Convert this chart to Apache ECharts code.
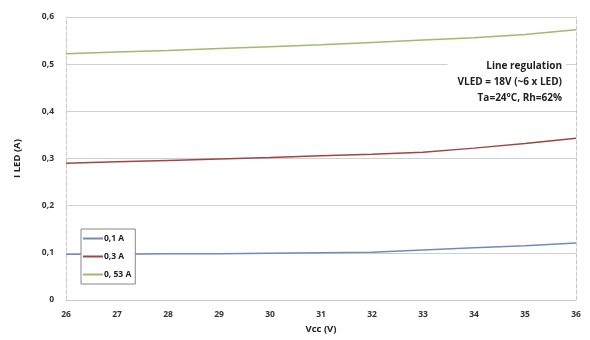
<!DOCTYPE html>
<html><head><meta charset="utf-8">
<script src="https://cdn.jsdelivr.net/npm/echarts@6/dist/echarts.min.js"></script>
<style>html,body{margin:0;padding:0;background:#fff}#c{width:590px;height:340px}</style>
</head><body><div id="c"></div>
<script>
const vcc = [26, 27, 28, 29, 30, 31, 32, 33, 34, 35, 36];
const i01 = [0.097, 0.097, 0.098, 0.098, 0.099, 0.100, 0.101, 0.106, 0.111, 0.115, 0.121];
const i03 = [0.290, 0.293, 0.296, 0.299, 0.302, 0.306, 0.309, 0.313, 0.322, 0.332, 0.343];
const i053 = [0.522, 0.526, 0.529, 0.533, 0.537, 0.541, 0.546, 0.551, 0.556, 0.563, 0.573];
const seriesNames = ['0,1 A', '0,3 A', '0, 53 A'];
const noteLines = ['Line regulation', 'VLED = 18V (~6 x LED)', 'Ta=24°C, Rh=62%'];

const font = '"Open Sans", Lato, sans-serif';
const chart = echarts.init(document.getElementById('c'));
const mk = (name, data, color) => ({
  name, type: 'line', data: vcc.map((x, k) => [x, data[k]]),
  showSymbol: false, lineStyle: { color, width: 1.5 }, itemStyle: { color }
});
const border = { show: true, lineStyle: { color: '#c8c8c8', type: 'dashed', width: 1 } };
chart.setOption({
  animation: false,
  grid: { left: 66, right: 14, top: 17, bottom: 40 },
  xAxis: {
    type: 'value', min: 26, max: 36, interval: 1,
    name: 'Vcc (V)', nameLocation: 'middle', nameGap: 23,
    nameTextStyle: { fontFamily: font, fontSize: 9.5, fontWeight: 'bold', color: '#222' },
    axisLine: border, axisTick: { show: false },
    axisLabel: { fontFamily: font, fontSize: 8.5, color: '#333', fontWeight: 'bold', margin: 10 },
    splitLine: { show: false }
  },
  yAxis: [{
    type: 'value', min: 0, max: 0.6, interval: 0.1,
    name: 'I LED (A)', nameLocation: 'middle', nameGap: 44, nameRotate: 90,
    nameTextStyle: { fontFamily: font, fontSize: 9.5, fontWeight: 'bold', color: '#222' },
    axisLine: border, axisTick: { show: false },
    axisLabel: { fontFamily: font, fontSize: 8.5, color: '#333', fontWeight: 'bold', margin: 12,
      formatter: v => v === 0 ? '0' : v.toFixed(1).replace('.', ',') },
    splitLine: { lineStyle: { color: '#d0d0d0' } }
  }, {
    type: 'value', min: 0, max: 0.6, interval: 0.1, position: 'right',
    axisLine: border, axisTick: { show: false }, axisLabel: { show: false }, splitLine: { show: false }
  }],
  legend: {
    orient: 'vertical', left: 81, top: 229, itemWidth: 20, itemHeight: 2, itemGap: 9,
    padding: [5, 4, 5, 2], backgroundColor: '#fff', borderColor: '#888', borderWidth: 1,
    textStyle: { fontFamily: font, fontSize: 8.5, fontWeight: 'bold', color: '#222', padding: [0, 0, 0, -4] },
    icon: 'rect', data: seriesNames
  },
  graphic: [{
    type: 'text', right: 24, top: 54, z: 1,
    style: { text: noteLines.join('\n'), textAlign: 'right', font: 'bold 10px ' + font,
      lineHeight: 16, fill: '#222', backgroundColor: '#fff', padding: [4, 4, 2, 10] }
  }],
  series: [
    mk(seriesNames[0], i01, '#7489bd'),
    mk(seriesNames[1], i03, '#a04544'),
    mk(seriesNames[2], i053, '#9fbb6a')
  ]
});
</script></body></html>
